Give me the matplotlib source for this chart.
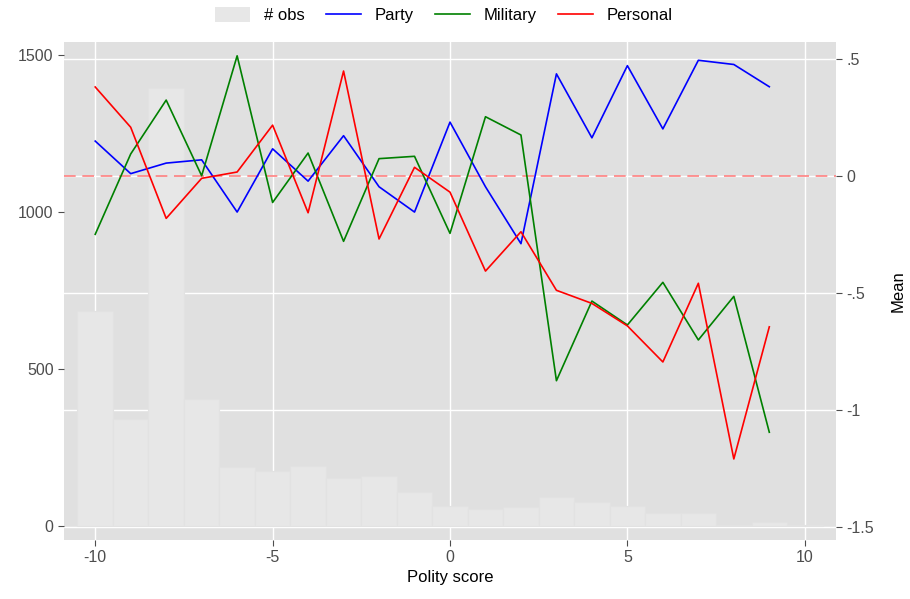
import matplotlib
matplotlib.use("Agg")
import matplotlib.pyplot as plt
from matplotlib.transforms import blended_transform_factory
from matplotlib.patches import Patch
from matplotlib.lines import Line2D

plt.rcParams['font.family'] = ['Liberation Sans', 'DejaVu Sans']
plt.rcParams['axes.unicode_minus'] = False

# polity scores
polity = list(range(-10, 10))
bar_x = list(range(-10, 11))
n_obs = [683, 342, 1394, 403, 188, 176, 192, 153, 160, 109,
         64, 53, 61, 93, 76, 64, 41, 41, 3, 12, 2]

party = [0.148, 0.009, 0.054, 0.068, -0.155, 0.115, -0.023, 0.171, -0.047, -0.155,
         0.229, -0.047, -0.290, 0.435, 0.162, 0.470, 0.200, 0.493, 0.475, 0.380]
military = [-0.250, 0.093, 0.323, 0.000, 0.512, -0.114, 0.097, -0.280, 0.073, 0.083,
            -0.246, 0.252, 0.174, -0.875, -0.535, -0.637, -0.455, -0.701, -0.515, -1.095]
personal = [0.379, 0.207, -0.182, -0.011, 0.016, 0.216, -0.158, 0.447, -0.270, 0.036,
            -0.070, -0.407, -0.239, -0.489, -0.545, -0.641, -0.795, -0.459, -1.209, -0.645]

mean_ticks = [0.5, 0, -0.5, -1, -1.5]
mean_labels = ['.5', '0', '-.5', '-1', '-1.5']

bg = '#e0e0e0'
tick_col = '#4d4d4d'

fig = plt.figure(figsize=(9.10, 5.99), dpi=100)
ax = fig.add_axes([64/910, 59/599, 772/910, 498/599])
ax2 = ax.twinx()

ax.set_facecolor(bg)
ax.set_xlim(-10.88, 10.88)
ax.set_ylim(-44.6, 1541)
ax2.set_ylim(-1.555, 0.571)

# white grid: vertical from x axis, horizontal at the mean ticks
ax.set_xticks([-10, -5, 0, 5, 10])
ax.grid(axis='x', color='white', linewidth=1.0)
ax.set_axisbelow(True)
tr = blended_transform_factory(ax.transAxes, ax2.transData)
for m in mean_ticks:
    ax.plot([0, 1], [m, m], transform=tr, color='white', linewidth=1.0, zorder=0.5)

ax.bar(bar_x, n_obs, width=1, color='#e7e7e7', edgecolor='#e2e2e2', linewidth=0.8, zorder=1)

ax2.axhline(0, color='#ff8080', linestyle=(0, (7, 4)), linewidth=1.2, zorder=1)
ax2.plot(polity, party, color='blue', linewidth=1.2, zorder=2)
ax2.plot(polity, military, color='green', linewidth=1.2, zorder=2)
ax2.plot(polity, personal, color='red', linewidth=1.2, zorder=2)

ax.set_yticks([0, 500, 1000, 1500])
ax2.set_yticks(mean_ticks)
ax2.set_yticklabels(mean_labels)

for a in (ax, ax2):
    for s in a.spines.values():
        s.set_visible(False)
    a.tick_params(colors=tick_col, labelsize=11.5, length=4, width=0.8)
ax.tick_params(axis='x', labelcolor=tick_col)

ax.set_xlabel('Polity score', fontsize=12, labelpad=3)
ax2.set_ylabel('Mean', fontsize=12, labelpad=12)

handles = [Patch(facecolor='#e7e7e7', edgecolor='none'),
           Line2D([], [], color='blue', linewidth=1.2),
           Line2D([], [], color='green', linewidth=1.2),
           Line2D([], [], color='red', linewidth=1.2)]
fig.legend(handles, ['# obs', 'Party', 'Military', 'Personal'], loc='upper center',
           bbox_to_anchor=(0.488, 1.013), ncol=4, frameon=False, fontsize=12,
           handlelength=2.1, handleheight=1.0, handletextpad=0.8, columnspacing=1.3)

fig.savefig('out.png', dpi=100)
